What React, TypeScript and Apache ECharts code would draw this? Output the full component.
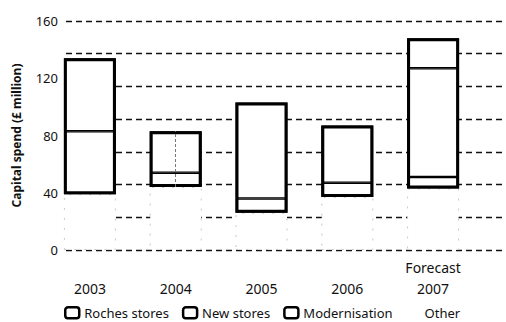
import React, { useEffect, useRef } from "react";
import * as echarts from "echarts";

const years = ["2003", "2004", "2005", "2006", "2007"];
const yearLabels = ["2003", "2004", "2005", "2006", "Forecast\n2007"];
const other = [39, 44, 26, 37, 43];
const modernisation = [44, 10, 10, 10, 8];
const newStores = [51, 29, 67, 40, 76];
const roches = [null, null, null, null, 21];
const legendNames = ["Roches stores", "New stores", "Modernisation", "Other"];
const yTicks = [0, 40, 80, 120, 160];

const FONT = "'Noto Sans', sans-serif";

export default function App() {
  const ref = useRef<HTMLDivElement>(null);
  useEffect(() => {
    document.body.style.margin = "0";
    if (!ref.current) return;
    const chart = echarts.init(ref.current, null, { renderer: "svg" });
    const visibleTotal = years.map(
      (_y, i) => modernisation[i] + newStores[i] + (roches[i] ?? 0)
    );
    const seg = {
      color: "#fff",
      borderColor: "#000",
      borderWidth: 1.3,
    };
    const bar = (
      name: string,
      data: (number | null)[],
      style: any,
      stack = "total"
    ) => ({
      name,
      type: "bar",
      stack,
      xAxisIndex: 0,
      yAxisIndex: 0,
      barWidth: 52,
      barGap: "-100%",
      data,
      itemStyle: style,
    });
    chart.setOption({
      animation: false,
      backgroundColor: "#fff",
      textStyle: { fontFamily: FONT },
      grid: [
        { left: 47, right: 30, top: 21, bottom: 72 },
        { left: 66, right: 2, top: 21, bottom: 72 },
      ],
      legend: {
        left: 64,
        top: 306,
        padding: 0,
        itemWidth: 14,
        itemHeight: 11,
        itemGap: 13,
        icon: "roundRect",
        textStyle: { fontSize: 13, color: "#111", fontFamily: FONT },
        itemStyle: { color: "#fff", borderColor: "#000", borderWidth: 2.5 },
        data: [
          legendNames[0],
          legendNames[1],
          legendNames[2],
          {
            name: legendNames[3],
            itemStyle: { color: "#fff", borderColor: "#fff", borderWidth: 0 },
          },
        ],
      },
      xAxis: [
        {
          type: "category",
          gridIndex: 0,
          data: years,
          axisLine: { show: false },
          axisTick: { show: false },
          axisLabel: {
            formatter: (_v: string, i: number) => yearLabels[i],
            verticalAlign: "bottom",
            margin: 49,
            fontSize: 14,
            lineHeight: 21,
            color: "#111",
            fontFamily: FONT,
          },
        },
        {
          type: "value",
          gridIndex: 1,
          show: false,
        },
      ],
      yAxis: [
        {
          type: "value",
          gridIndex: 0,
          min: 0,
          max: 160,
          show: false,
        },
        {
          type: "value",
          gridIndex: 1,
          min: 0,
          max: 160,
          interval: 40,
          axisLine: { show: false },
          axisTick: { show: false },
          splitLine: { show: false },
          axisLabel: {
            margin: 8,
            fontSize: 13,
            color: "#111",
            fontFamily: FONT,
            customValues: yTicks,
          },
          name: "Capital spend (£ million)",
          nameLocation: "middle",
          nameGap: 44,
          nameTextStyle: {
            fontSize: 12,
            fontWeight: "bold",
            color: "#111",
            fontFamily: FONT,
          },
        },
        {
          type: "value",
          gridIndex: 1,
          min: 0,
          max: 7,
          interval: 1,
          axisLine: { show: false },
          axisTick: { show: false },
          axisLabel: { show: false },
          splitLine: {
            show: true,
            lineStyle: { color: "#111", width: 1.3, type: [6, 4] },
          },
        },
      ],
      series: [
        bar(legendNames[3], other, {
          color: "#fff",
          borderColor: "#c8c8c8",
          borderWidth: 1,
          borderType: [2, 8],
        }),
        bar(legendNames[2], modernisation, seg),
        bar(legendNames[1], newStores, seg),
        bar(legendNames[0], roches, seg),
        {
          ...bar("outlineBase", other, { color: "transparent" }, "outline"),
          silent: true,
        },
        {
          ...bar(
            "outline",
            visibleTotal,
            { color: "transparent", borderColor: "#000", borderWidth: 3 },
            "outline"
          ),
          silent: true,
          markLine: {
            silent: true,
            symbol: "none",
            label: { show: false },
            lineStyle: { color: "#777", width: 1, type: [3, 2] },
            data: [
              [
                { coord: [years[1], other[1]] },
                { coord: [years[1], other[1] + visibleTotal[1]] },
              ],
            ],
          },
        },
      ],
    });
    return () => chart.dispose();
  }, []);
  return <div ref={ref} style={{ width: 506, height: 322 }} />;
}
